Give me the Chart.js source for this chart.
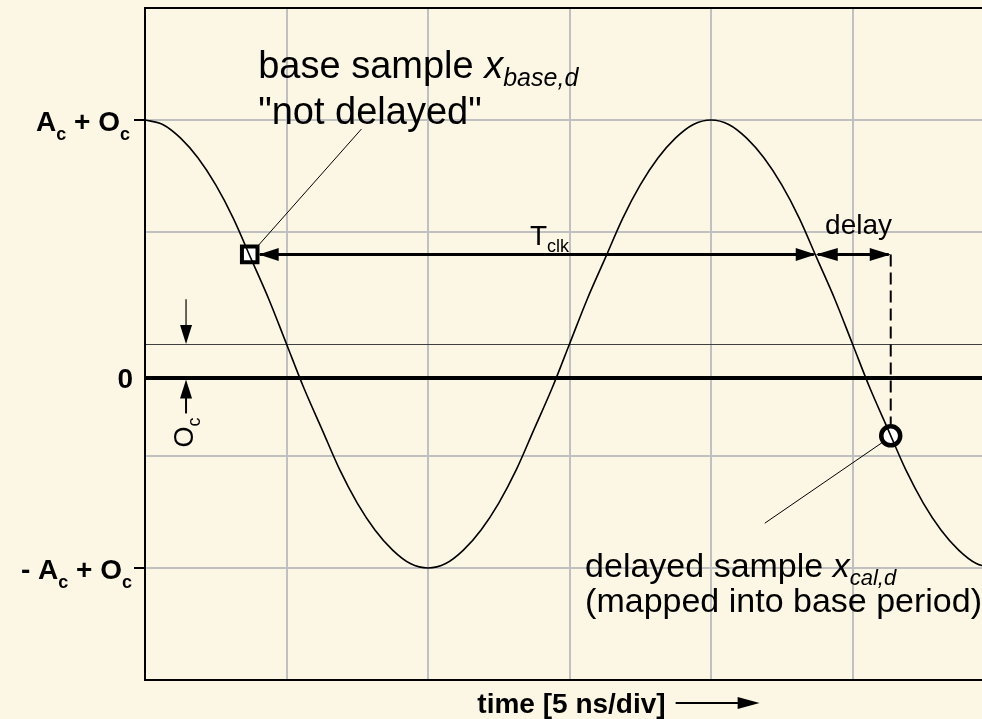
<!DOCTYPE html>
<html>
<head>
<meta charset="utf-8">
<script src="https://cdn.jsdelivr.net/npm/chart.js@4.4.0/dist/chart.umd.min.js"></script>
<style>
  html, body { margin: 0; padding: 0; background: #fcf7e5; overflow: hidden; }
  canvas { display: block; }
</style>
</head>
<body>
<canvas id="myChart" width="982" height="719"></canvas>
<script>
// carrier, time in divisions (5 ns/div), level normalised so that A_c = 1
const timeDiv = [0, 0.125, 0.25, 0.375, 0.5, 0.625, 0.75, 0.875, 1, 1.125, 1.25, 1.375, 1.5, 1.625, 1.75, 1.875,
                 2, 2.125, 2.25, 2.375, 2.5, 2.625, 2.75, 2.875, 3, 3.125, 3.25, 3.375, 3.5, 3.625, 3.75, 3.875,
                 4, 4.125, 4.25, 4.375, 4.5, 4.625, 4.75, 4.875, 5, 5.125, 5.25, 5.375, 5.5, 5.625, 5.75, 5.875, 6];
const signal = [1.15, 1.13, 1.07, 0.98, 0.86, 0.71, 0.53, 0.35, 0.15, -0.05, -0.23, -0.41, -0.56, -0.68, -0.77, -0.83,
                -0.85, -0.83, -0.77, -0.68, -0.56, -0.41, -0.23, -0.05, 0.15, 0.35, 0.53, 0.71, 0.86, 0.98, 1.07, 1.13,
                1.15, 1.13, 1.07, 0.98, 0.86, 0.71, 0.53, 0.35, 0.15, -0.05, -0.23, -0.41, -0.56, -0.68, -0.77, -0.83, -0.85];

const offset = 0.15;        // O_c
const peakLevel = 1.15;     // A_c + O_c
const troughLevel = -0.85;  // -A_c + O_c

// samples: base (not delayed) and delayed one mapped into the base period
const sampleTimes = [0.74, 5.27];
const sampleValues = [0.55, -0.26];
const clkPeriod = 4;        // T_clk in divisions

const xTicks = [0, 1, 2, 3, 4, 5];
const yTicks = [-1.35, -0.85, -0.35, 0, 0.15, 0.65, 1.15, 1.65];

const FONT = '"Liberation Sans", Arial, sans-serif';

const bgPlugin = {
    id: 'custom_canvas_background_color',
    beforeDraw: (chart) => {
        const ctx = chart.canvas.getContext('2d');
        ctx.save();
        ctx.globalCompositeOperation = 'destination-over';
        ctx.fillStyle = '#fcf7e5';
        ctx.fillRect(0, 0, chart.width, chart.height);
        ctx.restore();
    }
};

// text made of parts, each with its own font and baseline shift
const richText = (ctx, parts, x, y, align) => {
    let w = 0;
    parts.forEach(p => { ctx.font = p.font; w += ctx.measureText(p.t).width; });
    let cx = align === 'right' ? x - w : (align === 'center' ? x - w / 2 : x);
    ctx.textAlign = 'left';
    ctx.textBaseline = 'alphabetic';
    parts.forEach(p => {
        ctx.font = p.font;
        ctx.fillText(p.t, cx, y + (p.dy || 0));
        cx += ctx.measureText(p.t).width;
    });
    return w;
};

const arrowHead = (ctx, x, y, dir, len, half) => {
    // dir: unit vector the tip points to
    const px = -dir[1], py = dir[0];
    ctx.beginPath();
    ctx.moveTo(x, y);
    ctx.lineTo(x - dir[0] * len + px * half, y - dir[1] * len + py * half);
    ctx.lineTo(x - dir[0] * len - px * half, y - dir[1] * len - py * half);
    ctx.closePath();
    ctx.fill();
};

const line = (ctx, x1, y1, x2, y2, w) => {
    ctx.lineWidth = w;
    ctx.beginPath();
    ctx.moveTo(x1, y1);
    ctx.lineTo(x2, y2);
    ctx.stroke();
};

const annotations = {
    id: 'annotations',
    beforeDatasetsDraw: (chart) => {
        const ctx = chart.ctx;
        const x = chart.scales.x, y = chart.scales.y;
        ctx.save();
        ctx.strokeStyle = '#000';
        ctx.fillStyle = '#000';

        const bx = x.getPixelForValue(sampleTimes[0]);
        const by = y.getPixelForValue(sampleValues[0]);
        const ex = x.getPixelForValue(sampleTimes[0] + clkPeriod);
        const dx = x.getPixelForValue(sampleTimes[1]);
        const dy = y.getPixelForValue(sampleValues[1]);

        // T_clk arrow
        line(ctx, bx + 10, by, ex - 2, by, 3);
        arrowHead(ctx, bx + 9, by, [-1, 0], 20, 6.5);
        arrowHead(ctx, ex, by, [1, 0], 20, 6.5);
        // delay arrow
        line(ctx, ex + 2, by, dx - 2, by, 3);
        arrowHead(ctx, ex, by, [-1, 0], 22, 6.5);
        arrowHead(ctx, dx, by, [1, 0], 21, 6.5);
        // dashed drop to the delayed sample
        ctx.setLineDash([12, 6]);
        line(ctx, dx, by, dx, dy, 2);
        ctx.setLineDash([]);

        // leader lines
        line(ctx, bx + 6, by - 6, x.getPixelForValue(1.53), y.getPixelForValue(1.11), 1);
        line(ctx, dx - 6, dy + 5, x.getPixelForValue(4.38), y.getPixelForValue(-0.65), 1);

        // O_c arrows
        const ox = x.getPixelForValue(0.29);
        const yOff = y.getPixelForValue(offset);
        const yZero = y.getPixelForValue(0);
        line(ctx, ox, y.getPixelForValue(0.35), ox, yOff - 10, 1.2);
        arrowHead(ctx, ox, yOff, [0, 1], 19, 6);
        line(ctx, ox, yZero + 12, ox, y.getPixelForValue(-0.16), 2);
        arrowHead(ctx, ox, yZero + 2, [0, -1], 19, 6);
        ctx.restore();
    },
    afterDraw: (chart) => {
        const ctx = chart.ctx;
        const x = chart.scales.x, y = chart.scales.y;
        ctx.save();
        ctx.fillStyle = '#000';

        // level labels
        const lb = 'bold 28px ' + FONT, ls = 'bold 18px ' + FONT;
        const lx = chart.chartArea.left - 15;
        richText(ctx, [{t: 'A', font: lb}, {t: 'c', font: ls, dy: 9}, {t: ' + O', font: lb}, {t: 'c', font: ls, dy: 9}],
            lx, y.getPixelForValue(peakLevel) + 11, 'right');
        richText(ctx, [{t: '0', font: lb}], lx + 3, y.getPixelForValue(0) + 10, 'right');
        richText(ctx, [{t: '- A', font: lb}, {t: 'c', font: ls, dy: 9}, {t: ' + O', font: lb}, {t: 'c', font: ls, dy: 9}],
            lx + 2, y.getPixelForValue(troughLevel) + 11, 'right');

        // sample descriptions
        const tb = '38px ' + FONT, ti = 'italic 38px ' + FONT, ts = 'italic 25px ' + FONT;
        const tx = x.getPixelForValue(0.80);
        richText(ctx, [{t: 'base sample ', font: tb}, {t: 'x', font: ti}, {t: 'base,d', font: ts, dy: 8}],
            tx, y.getPixelForValue(1.3375), 'left');
        richText(ctx, [{t: '"not delayed"', font: tb}], tx, y.getPixelForValue(1.132), 'left');
        const db = '34px ' + FONT, di = 'italic 34px ' + FONT, dsub = 'italic 22px ' + FONT;
        const tx2 = x.getPixelForValue(3.11);
        richText(ctx, [{t: 'delayed sample ', font: db}, {t: 'x', font: di}, {t: 'cal,d', font: dsub, dy: 8}],
            tx2, y.getPixelForValue(-0.89), 'left');
        richText(ctx, [{t: '(mapped into base period)', font: db}], tx2, y.getPixelForValue(-1.045), 'left');

        // T_clk and delay
        richText(ctx, [{t: 'T', font: '28px ' + FONT}, {t: 'clk', font: '18px ' + FONT, dy: 7}],
            x.getPixelForValue(2.72), y.getPixelForValue(0.592), 'left');
        richText(ctx, [{t: 'delay', font: '28px ' + FONT}], x.getPixelForValue(4.806), y.getPixelForValue(0.64), 'left');

        // O_c, written upwards
        ctx.translate(x.getPixelForValue(0.29) + 7, y.getPixelForValue(-0.245));
        ctx.rotate(-Math.PI / 2);
        richText(ctx, [{t: 'O', font: '27px ' + FONT}, {t: 'c', font: '18px ' + FONT, dy: 7}], 0, 0, 'center');
        ctx.setTransform(1, 0, 0, 1, 0, 0);

        // axis title with arrow
        const cx = (chart.chartArea.left + chart.chartArea.right) / 2 + 8;
        const w = richText(ctx, [{t: 'time [5 ns/div]', font: 'bold 28px ' + FONT}], cx, chart.chartArea.bottom + 33, 'center');
        ctx.strokeStyle = '#000';
        const ay = chart.chartArea.bottom + 23;
        line(ctx, cx + w / 2 + 10, ay, cx + w / 2 + 75, ay, 2);
        arrowHead(ctx, cx + w / 2 + 94, ay, [1, 0], 22, 6);
        ctx.restore();
    }
};

const ctx = document.getElementById('myChart').getContext('2d');

const yGridColor = (c) => {
    const v = c.tick && c.tick.value;
    if (v === 0) return '#000';
    if (v === offset) return '#404040';
    if (v === 1.65) return '#000';
    return '#c0c0c0';
};
const yGridWidth = (c) => {
    const v = c.tick && c.tick.value;
    if (v === 0) return 4;
    if (v === offset) return 1;
    return 2;
};

const chart = new Chart(ctx, {
    type: 'line',
    plugins: [bgPlugin, annotations],
    data: {
        datasets: [{
            label: 'carrier',
            data: timeDiv.map((t, i) => ({x: t, y: signal[i]})),
            borderColor: '#000',
            borderWidth: 1.6,
            pointRadius: 0,
            cubicInterpolationMode: 'monotone',
            fill: false
        }, {
            label: 'base sample',
            data: [{x: sampleTimes[0], y: sampleValues[0]}],
            showLine: false,
            pointStyle: 'rect',
            pointRadius: 11,
            pointBorderWidth: 4,
            pointBackgroundColor: '#fff',
            pointBorderColor: '#000'
        }, {
            label: 'delayed sample',
            data: [{x: sampleTimes[1], y: sampleValues[1]}],
            showLine: false,
            pointStyle: 'circle',
            pointRadius: 9.5,
            pointBorderWidth: 4.5,
            pointBackgroundColor: '#fff',
            pointBorderColor: '#000'
        }]
    },
    options: {
        responsive: false,
        animation: false,
        layout: { autoPadding: false, padding: { top: 8, right: 0, left: 0, bottom: 0 } },
        plugins: { legend: { display: false }, tooltip: { enabled: false } },
        scales: {
            x: {
                type: 'linear',
                min: 0,
                max: 5.915,
                afterBuildTicks: (s) => { s.ticks = xTicks.map(v => ({value: v})); },
                afterFit: (s) => { s.height = 39; },
                ticks: { display: false },
                grid: {
                    color: (c) => c.tick && c.tick.value === 0 ? 'rgba(0,0,0,0)' : '#c0c0c0',
                    lineWidth: 2,
                    drawTicks: false
                },
                border: { color: '#000', width: 2 }
            },
            y: {
                type: 'linear',
                min: -1.35,
                max: 1.65,
                afterBuildTicks: (s) => { s.ticks = yTicks.map(v => ({value: v})); },
                afterFit: (s) => { s.width = 145; },
                ticks: { display: false },
                grid: {
                    z: -0.5,
                    color: yGridColor,
                    lineWidth: yGridWidth,
                    drawTicks: true,
                    tickLength: 11,
                    tickWidth: 2,
                    tickColor: (c) => {
                        const v = c.tick && c.tick.value;
                        return (v === peakLevel || v === troughLevel) ? '#000' : 'rgba(0,0,0,0)';
                    }
                },
                border: { color: '#000', width: 2 }
            }
        }
    }
});
</script>
</body>
</html>
